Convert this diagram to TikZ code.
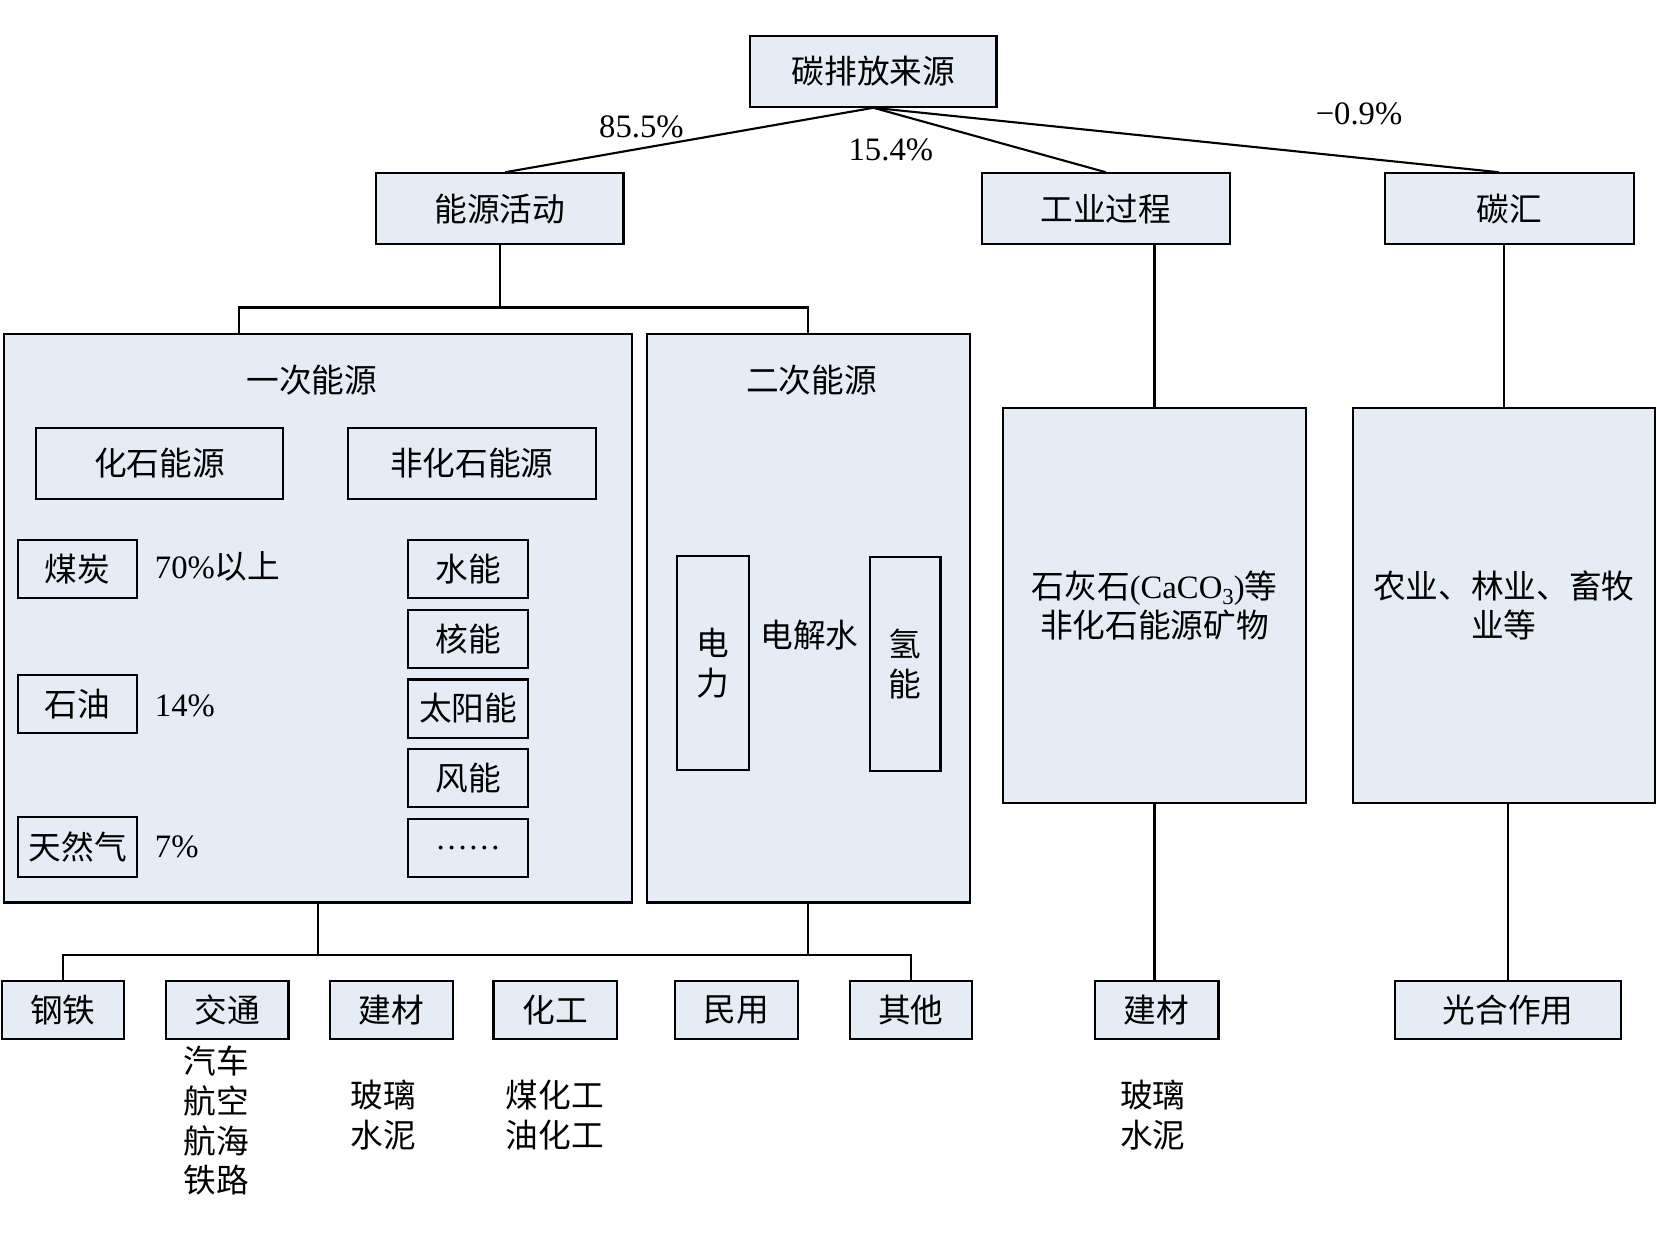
\documentclass[tikz,border=0pt]{standalone}
\usepackage{fontspec}
\setmainfont{Noto Sans CJK SC}
\newfontfamily\lat{Liberation Serif}
\usetikzlibrary{calc}
\newlength{\pxl}\setlength{\pxl}{0.10568mm}
\definecolor{boxfill}{RGB}{230,236,246}
\tikzset{
	blk/.style 2 args={draw, line width=0.6pt, fill=boxfill, inner sep=0pt, align=center, minimum width=#1*\pxl, minimum height=#2*\pxl},
	link/.style={line width=0.6pt},
	txt/.style={inner sep=0pt, align=center}
}

\begin{document}
\begin{tikzpicture}[x=0.10568mm, y=-0.10568mm, font=\fontsize{9.3}{11.3}\selectfont]
		%%%%% START %%%%%
		\useasboundingbox (0, 0) rectangle (1568, 1166);
		
		\node[blk={233}{67}] (src) at (826.5, 67.5) {碳排放来源};
		\node[blk={234}{67}] (eng) at (473, 197.5) {能源活动};
		\node[blk={235}{67}] (ind) at (1046.5, 197.5) {工业过程};
		\node[blk={235}{67}] (sink) at (1428.5, 197.5) {碳汇};
		
		\draw[link] (src.south) -- ($(eng.north)+(5, 0)$);
		\draw[link] (src.south) -- (ind.north);
		\draw[link] (src.south) -- ($(sink.north)+(-10, 0)$);
		\node[txt] (p1) at (607, 120) {\lat 85.5\%};
		\node[txt] (p2) at (843, 142) {\lat 15.4\%};
		\node[txt] (p3) at (1286, 108) {\lat −0.9\%};
		
		% primary / secondary energy
		\node[blk={594}{538}] (prim) at (301, 585) {};
		\node[blk={306}{538}] (sec) at (765, 585) {};
		\node[txt] (primt) at (295, 360) {一次能源};
		\node[txt] (sect) at (768, 360) {二次能源};
		
		\coordinate (j1) at (473, 291);
		\draw[link] (eng.south) -- (j1);
		\draw[link] ($(prim.north)+(-75, 0)$) |- (j1) -| (sec.north);
		
		\node[blk={234}{67}] (fos) at (151, 438.5) {化石能源};
		\node[blk={235}{67}] (nfos) at (446.5, 438.5) {非化石能源};
		
		\node[blk={113}{55}] (coal) at (73.5, 538.5) {煤炭};
		\node[blk={113}{55}] (oil) at (73.5, 666.5) {石油};
		\node[blk={113}{57}] (gas) at (73.5, 801.5) {天然气};
		\node[txt, anchor=west] (coalp) at (146, 536) {{\lat 70\%}以上};
		\node[txt, anchor=west] (oilp) at (146, 668) {\lat 14\%};
		\node[txt, anchor=west] (gasp) at (146, 801) {\lat 7\%};
		
		\node[blk={114}{55}] (hydro) at (443, 538.5) {水能};
		\node[blk={114}{55}] (nuc) at (443, 604.5) {核能};
		\node[blk={114}{55}] (sol) at (443, 670.5) {太阳能};
		\node[blk={114}{55}] (wind) at (443, 736.5) {风能};
		\node[blk={114}{55}] (etc) at (443, 802.5) {\lat ……};
		
		\node[blk={68}{203}] (elec) at (675, 627.5) {电\\力};
		\node[blk={67}{203}] (hyd) at (856.5, 628.5) {氢\\能};
		\node[txt] (elys) at (766, 601) {电解水};
		
		% industry / sink
		\node[blk={287}{374}] (indb) at (1092.5, 573) {石灰石{\lat(CaCO\raisebox{-0.45ex}{\fontsize{6.5}{7}\selectfont 3})}等\\非化石能源矿物};
		\node[blk={286}{374}] (sinkb) at (1423, 573) {农业、林业、畜牧\\业等};
		\draw[link] (ind.south -| indb.north) -- (indb.north);
		\draw[link] (sink.south -| sinkb.north) -- (sinkb.north);
		
		% end use
		\node[blk={116}{55}] (steel) at (59.5, 955.5) {钢铁};
		\node[blk={116}{55}] (trans) at (215, 955.5) {交通};
		\node[blk={117}{55}] (build) at (370.5, 955.5) {建材};
		\node[blk={117}{55}] (chem) at (525.5, 955.5) {化工};
		\node[blk={116}{55}] (civil) at (697, 955.5) {民用};
		\node[blk={116}{55}] (other) at (862, 955.5) {其他};
		\node[blk={117}{55}] (buildr) at (1094.5, 955.5) {建材};
		\node[blk={214}{55}] (photo) at (1427, 955.5) {光合作用};
		
		\coordinate (bus) at (0, 904);
		\draw[link] (steel.north) -- (steel.north |- bus) -- (other.north |- bus) -- (other.north);
		\draw[link] (prim.south) -- (prim.south |- bus);
		\draw[link] (sec.south) -- (sec.south |- bus);
		\draw[link] (indb.south) -- (indb.south |- buildr.north);
		\draw[link] (sinkb.south -| photo.north) -- (photo.north);
		
		\node[txt] (transl) at (205, 1060.5) {汽车\\航空\\航海\\铁路};
		\node[txt] (buildl) at (363, 1055) {玻璃\\水泥};
		\node[txt] (cheml) at (525, 1055) {煤化工\\油化工};
		\node[txt] (buildrl) at (1091, 1055) {玻璃\\水泥};
		%%%%% END %%%%%
	\end{tikzpicture}
\end{document}
